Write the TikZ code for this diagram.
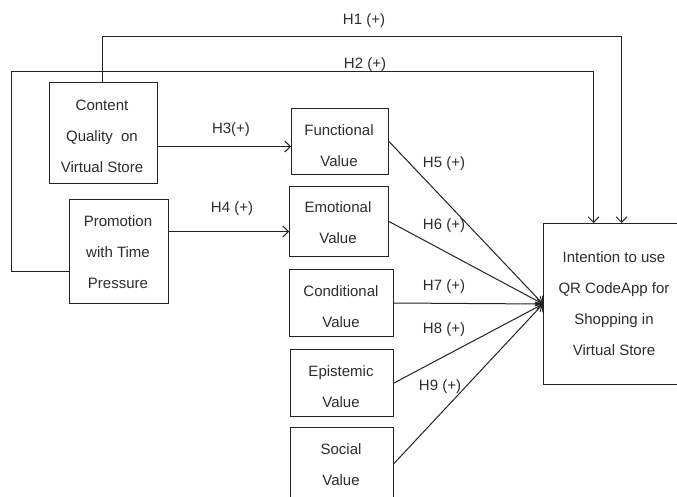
\documentclass[tikz,border=0pt]{standalone}
\usepackage{fontspec}
\setmainfont{Liberation Sans}
\usetikzlibrary{arrows.meta}
\definecolor{ink}{RGB}{35,35,35}
\definecolor{txtc}{RGB}{45,45,45}
\begin{document}
\begin{tikzpicture}[x=1pt,y=-1pt,
  box/.style={draw=ink,line width=1pt,rectangle,anchor=north west,inner sep=0pt},
  txt/.style={align=center,text=txtc,font=\fontsize{15}{31}\selectfont,inner sep=0pt},
  lab/.style={text=txtc,font=\fontsize{15}{17}\selectfont,inner sep=0pt},
  conn/.style={draw=ink,line width=1pt},
  arr/.style={conn,-{Straight Barb[length=5.5pt,width=11pt,line width=1pt]}}]
\clip (0,0) rectangle (677,497);
\fill[white] (0,0) rectangle (677,497);
% boxes
\node[box,minimum width=108pt,minimum height=101pt] (c) at (49,82) {};
\node[box,minimum width=99pt,minimum height=104pt] (p) at (69,199) {};
\node[box,minimum width=97pt,minimum height=66pt] (f) at (291,108) {};
\node[box,minimum width=99pt,minimum height=70pt] (e) at (289,186) {};
\node[box,minimum width=104pt,minimum height=67pt] (cv) at (289,269) {};
\node[box,minimum width=103pt,minimum height=67pt] (ep) at (290,349) {};
\node[box,minimum width=103pt,minimum height=72pt] (s) at (290,427) {};
\node[box,minimum width=142pt,minimum height=161pt] (i) at (543,223) {};
% texts
\node[txt] (ct) at (102,136) {Content\\Quality\ \ on\\Virtual Store};
\node[txt] (pt) at (118,252) {Promotion\\with Time\\Pressure};
\node[txt] (ft) at (339,146) {Functional\\Value};
\node[txt] (et) at (338,223) {Emotional\\Value};
\node[txt] (cvt) at (341,307) {Conditional\\Value};
\node[txt] (ept) at (341,387) {Epistemic\\Value};
\node[txt] (st) at (341,465) {Social\\Value};
\node[txt] (it) at (614,304) {Intention to use\\QR CodeApp for\\Shopping in\\Virtual Store};
% labels
\node[lab] (h1) at (364,21) {H1 (+)};
\node[lab] (h2) at (365,65) {H2 (+)};
\node[lab] (h3) at (231,130) {H3(+)};
\node[lab] (h4) at (232,209) {H4 (+)};
\node[lab] (h5) at (444,164) {H5 (+)};
\node[lab] (h6) at (444,226) {H6 (+)};
\node[lab] (h7) at (444,287) {H7 (+)};
\node[lab] (h8) at (444,330) {H8 (+)};
\node[lab] (h9) at (440,387) {H9 (+)};
% connectors
\coordinate (k1) at (102,37);
\coordinate (k2) at (11,72);
\draw[arr] ([xshift=-1pt]c.north) -- ([xshift=-1pt]c.north |- k1) -| ([xshift=7pt]i.north);
\draw[arr] ([yshift=-20pt]p.west) -| (k2) -| ([xshift=-21pt]i.north);
\draw[arr] ([yshift=-13.5pt]c.east) -- ([yshift=-5pt]f.west);
\draw[arr] ([yshift=20pt]p.east) -- ([yshift=-10pt]e.west);
\draw[arr] (f.east) -- (i.west);
\draw[arr] (e.east) -- (i.west);
\draw[arr] (cv.east) -- (i.west);
\draw[arr] (ep.east) -- (i.west);
\draw[arr] (s.east) -- (i.west);
\end{tikzpicture}
\end{document}
